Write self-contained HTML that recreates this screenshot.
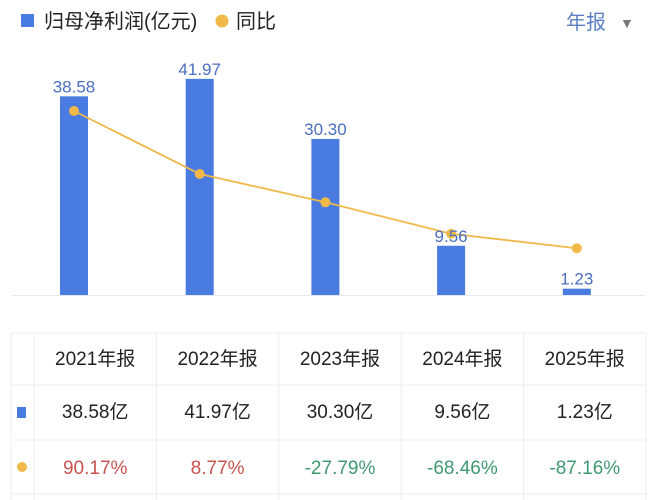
<!DOCTYPE html>
<html><head><meta charset="utf-8">
<style>
body{margin:0;width:655px;height:500px;background:#fff;overflow:hidden;font-family:"Liberation Sans","Noto Sans CJK SC",sans-serif;}
svg{position:absolute;left:0;top:0}
</style></head>
<body>
<svg id="chart" width="655" height="500"></svg>
<script>
const categories=["2021年报","2022年报","2023年报","2024年报","2025年报"];
const profitValues=[38.58,41.97,30.30,9.56,1.23];
const yoyValues=[90.17,8.77,-27.79,-68.46,-87.16];
const profitLabels=["38.58亿","41.97亿","30.30亿","9.56亿","1.23亿"];
const yoyLabels=["90.17%","8.77%","-27.79%","-68.46%","-87.16%"];

const NS="http://www.w3.org/2000/svg";
const svg=document.getElementById('chart');
function mk(tag,attrs,text){const e=document.createElementNS(NS,tag);for(const k in attrs)e.setAttribute(k,attrs[k]);if(text!==undefined)e.textContent=text;svg.appendChild(e);return e;}
const xOf=i=>74+i*125.7;
const yBar=v=>295-v*5.15;
const yLine=v=>174-(v-8.77)*0.774;

let e;
e=mk('rect',{x:21,y:14,width:13,height:13,fill:'#4a7be0'});


e=mk('text',{x:44,y:28,'font-size':20,fill:'#222'},'归母净利润(亿元)');


e=mk('circle',{cx:222,cy:21,r:6.5,fill:'#f0b94a'});


e=mk('text',{x:236,y:28,'font-size':20,fill:'#222'},'同比');


e=mk('text',{x:566,y:29,'font-size':20,fill:'#5b7fc4'},'年报');


e=mk('text',{x:620,y:28,'font-size':14,fill:'#777'},'▼');



e=mk('line',{x1:12,x2:645,y1:295.5,y2:295.5,stroke:'#e6e8ee','stroke-width':1});



profitValues.forEach((v,i)=>{
  const y=yBar(v);
  const b=mk('rect',{x:xOf(i)-14,y:y,width:28,height:295-y,fill:'#4a7be0'});
  
  
});
const pts=yoyValues.map((v,i)=>xOf(i)+','+yLine(v)).join(' ');
e=mk('polyline',{points:pts,fill:'none',stroke:'#f0b94a','stroke-width':1.8});


yoyValues.forEach((v,i)=>{
  const c=mk('circle',{cx:xOf(i),cy:yLine(v),r:5,fill:'#f0b94a'});
  
  
});
profitValues.forEach((v,i)=>{
  const t=mk('text',{x:xOf(i),y:yBar(v)-4,'font-size':17,fill:'#4a6fc0','text-anchor':'middle'},v.toFixed(2));
  
  
});

const L=11,R=646,c0=34,cw=(R-c0)/5,rows=[333,385,440,494];
rows.forEach(y=>{
  const l=mk('line',{x1:L,x2:R,y1:y,y2:y,stroke:'#eceef2','stroke-width':1});
  
  
});
[L,c0,c0+cw,c0+2*cw,c0+3*cw,c0+4*cw,R].forEach(x=>{
  const l=mk('line',{x1:x,x2:x,y1:333,y2:500,stroke:'#eceef2','stroke-width':1});
  
  
});
e=mk('rect',{x:17,y:407,width:9,height:11,fill:'#4a7be0'});


e=mk('circle',{cx:22,cy:467,r:5,fill:'#f0b94a'});


categories.forEach((c,i)=>{
  const cx=c0+cw*(i+0.5);
  let t=mk('text',{x:cx,y:365,'font-size':19,fill:'#222','text-anchor':'middle'},c);
  
  
  t=mk('text',{x:cx,y:418,'font-size':19,fill:'#222','text-anchor':'middle'},profitLabels[i]);
  
  
  t=mk('text',{x:cx,y:474,'font-size':19,fill:yoyValues[i]>=0?'#c9544f':'#3f9a70','text-anchor':'middle'},yoyLabels[i]);
  
  
});
</script>
</body></html>
